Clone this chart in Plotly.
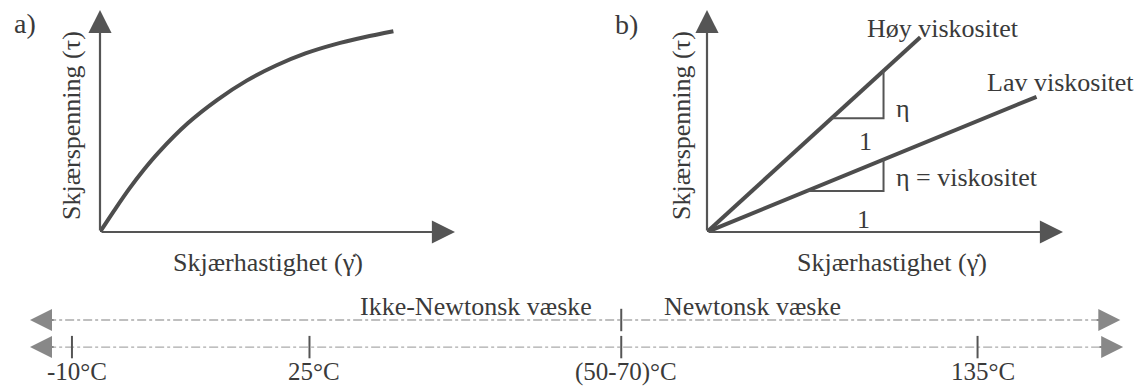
import plotly.graph_objects as go

# ---- data -------------------------------------------------------------
# a) non-Newtonian flow curve: shear rate vs. shear stress (arbitrary units)
shear_rate_a = [0, 0.5, 1, 1.5, 2, 3, 4, 5, 6, 7, 8, 9, 10]
shear_stress_a = [0, 1.1, 2.15, 3.1, 3.95, 5.4, 6.55, 7.5, 8.25, 8.85, 9.3, 9.65, 9.95]

# b) Newtonian fluids: straight lines through the origin
high_visc_x = [0, 7.25]
high_visc_y = [0, 9.65]
low_visc_x = [0, 11.2]
low_visc_y = [0, 6.7]

# slope triangles (run of the line, then rise of eta)
high_tri_x = [4.23, 6.0, 6.0]
high_tri_y = [5.64, 5.64, 8.0]
low_tri_x = [3.38, 6.0, 6.0]
low_tri_y = [2.03, 2.03, 3.6]

# temperature scale below the panels (schematic positions along the bar)
temp_labels = ["-10°C", "25°C", "(50-70)°C", "135°C"]
temp_pos = [6.3, 27.1, 54.4, 85.6]
regime_labels = ["Ikke-Newtonsk væske", "Newtonsk væske"]
boundary_index = 2  # (50-70)°C separates the two regimes

# ---- styling ----------------------------------------------------------
W, H = 1142, 390
FONT = "Liberation Serif, Times New Roman, serif"
TXT = "#3a3a3a"
INK = "#4d4d4d"
AX = "#555555"
DASH = "#ababab"


def px_x(p):
    return p / W


def px_y(p):
    return 1 - p / H


fig = go.Figure()

# a) flow curve
fig.add_trace(go.Scatter(x=shear_rate_a, y=shear_stress_a, mode="lines",
                         line=dict(color=INK, width=4, shape="spline"),
                         xaxis="x", yaxis="y", hoverinfo="skip"))

# b) the two viscosity lines and their slope triangles
for xs, ys in ((high_visc_x, high_visc_y), (low_visc_x, low_visc_y)):
    fig.add_trace(go.Scatter(x=xs, y=ys, mode="lines",
                             line=dict(color=INK, width=4),
                             xaxis="x2", yaxis="y2", hoverinfo="skip"))
for xs, ys in ((high_tri_x, high_tri_y), (low_tri_x, low_tri_y)):
    fig.add_trace(go.Scatter(x=xs, y=ys, mode="lines",
                             line=dict(color=AX, width=2),
                             xaxis="x2", yaxis="y2", hoverinfo="skip"))

# temperature bar: two dash-dot rows
ROW_REGIME, ROW_TEMP = 1.795, 1.10
BAR_L, BAR_R = 2.63, 98.1
for row in (ROW_REGIME, ROW_TEMP):
    fig.add_trace(go.Scatter(x=[BAR_L + 1.5, BAR_R - 1.5], y=[row, row], mode="lines",
                             line=dict(color=DASH, width=1.4, dash="dashdot"),
                             xaxis="x3", yaxis="y3", hoverinfo="skip"))

# tick marks on the temperature row, and the regime boundary on the upper row
fig.add_trace(go.Scatter(x=temp_pos, y=[ROW_TEMP] * len(temp_pos), mode="markers",
                         marker=dict(symbol="line-ns", size=16,
                                     line=dict(color=AX, width=2)),
                         xaxis="x3", yaxis="y3", hoverinfo="skip"))
fig.add_trace(go.Scatter(x=[temp_pos[boundary_index]], y=[ROW_REGIME], mode="markers",
                         marker=dict(symbol="line-ns", size=16,
                                     line=dict(color=AX, width=2)),
                         xaxis="x3", yaxis="y3", hoverinfo="skip"))

ann = []


def arrow(x, y, ax, ay, xr, yr, color=AX, width=2.2, size=2.1):
    ann.append(dict(x=x, y=y, ax=ax, ay=ay, xref=xr, yref=yr, axref=xr, ayref=yr,
                    text="", showarrow=True, arrowhead=2, arrowsize=size,
                    arrowwidth=width, arrowcolor=color))


# panel axes drawn as arrows from the origin
X_END, Y_END = 12.1, 11.0
for xr, yr in (("x", "y"), ("x2", "y2")):
    arrow(X_END, 0, 0, 0, xr, yr)
    arrow(0, Y_END, 0, 0, xr, yr)

# arrowheads at both ends of the temperature rows
for row, right in ((ROW_REGIME, BAR_R), (ROW_TEMP, BAR_R + 0.25)):
    arrow(BAR_L, row, BAR_L + 2.2, row, "x3", "y3", color="#888888", width=2, size=2.2)
    arrow(right, row, right - 2.2, row, "x3", "y3", color="#888888", width=2, size=2.2)


def text(t, x, y, xr="paper", yr="paper", size=26, angle=0, xanchor="center"):
    ann.append(dict(text=t, x=x, y=y, xref=xr, yref=yr, showarrow=False,
                    textangle=angle, xanchor=xanchor, yanchor="middle",
                    font=dict(family=FONT, size=size, color=TXT)))


# panel letters and axis titles
text("a)", px_x(25), px_y(23), size=28)
text("b)", px_x(626), px_y(24), size=28)
text("Skjærspenning (τ)", px_x(72), px_y(126), angle=-90)
text("Skjærspenning (τ)", px_x(682), px_y(126), angle=-90)
text("Skjærhastighet (γ̇)", px_x(268), px_y(262))
text("Skjærhastighet (γ̇)", px_x(892), px_y(262))

# labels inside panel b
text("Høy viskositet", 8.01, 10.1, "x2", "y2")
text("Lav viskositet", 12.0, 7.43, "x2", "y2")
text("η", 6.65, 6.14, "x2", "y2")
text("1", 5.39, 4.5, "x2", "y2")
text("η = viskositet", 6.34, 2.68, "x2", "y2", xanchor="left")
text("1", 5.32, 0.6, "x2", "y2")

# regime and temperature labels
text(regime_labels[0], 41.7, 2.15, "x3", "y3")
text(regime_labels[1], 65.9, 2.15, "x3", "y3")
for lab, pos in zip(temp_labels, temp_pos):
    ann.append(dict(text=lab, x=pos, y=0.47, xref="x3", yref="y3", showarrow=False,
                    xanchor="center", yanchor="middle", xshift=5,
                    font=dict(family=FONT, size=25, color=TXT)))

hidden = dict(visible=False, fixedrange=True)
fig.update_layout(
    width=W, height=H, autosize=False,
    margin=dict(l=0, r=0, t=0, b=0),
    paper_bgcolor="white", plot_bgcolor="white",
    showlegend=False,
    xaxis=dict(domain=[px_x(100), px_x(455)], range=[0, X_END], anchor="y", **hidden),
    yaxis=dict(domain=[px_y(232), px_y(10)], range=[0, Y_END], anchor="x", **hidden),
    xaxis2=dict(domain=[px_x(707), px_x(1063)], range=[0, X_END], anchor="y2", **hidden),
    yaxis2=dict(domain=[px_y(232), px_y(10)], range=[0, Y_END], anchor="x2", **hidden),
    xaxis3=dict(domain=[0, 1], range=[0, 100], anchor="y3", **hidden),
    yaxis3=dict(domain=[0, 0.3], range=[0, 3], anchor="x3", **hidden),
    annotations=ann,
)

fig.write_html("out.html", config={"displayModeBar": False})
